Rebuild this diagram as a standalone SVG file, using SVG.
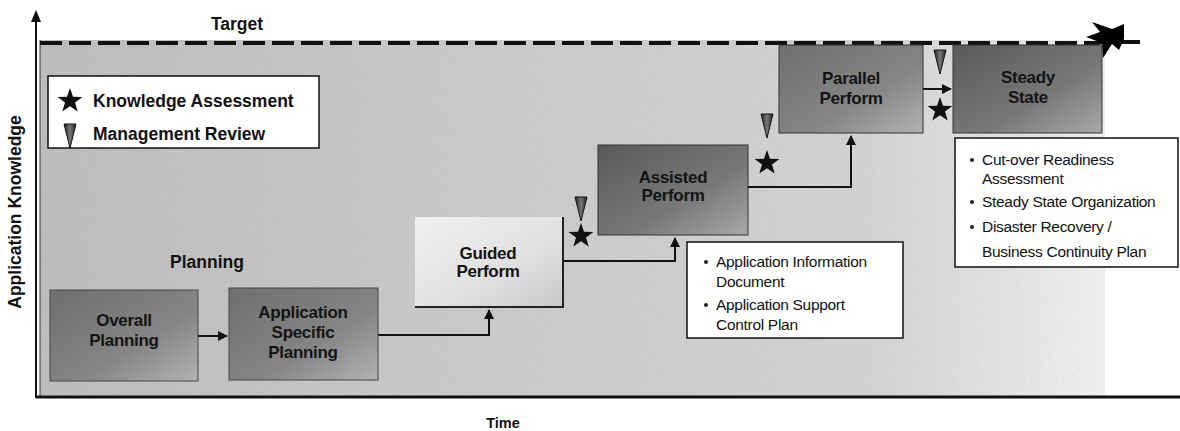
<svg xmlns="http://www.w3.org/2000/svg" width="1180" height="431" viewBox="0 0 1180 431">
  <defs>
    <linearGradient id="bg" x1="0" y1="0" x2="1" y2="0">
      <stop offset="0" stop-color="#c4c4c4"/>
      <stop offset="0.45" stop-color="#d2d2d2"/>
      <stop offset="0.78" stop-color="#dadada"/>
      <stop offset="0.92" stop-color="#ececec"/>
      <stop offset="1" stop-color="#f8f8f8"/>
    </linearGradient>
    <linearGradient id="dark" x1="0" y1="0" x2="1" y2="1">
      <stop offset="0" stop-color="#6f6f6f"/>
      <stop offset="0.6" stop-color="#858585"/>
      <stop offset="1" stop-color="#b2b2b2"/>
    </linearGradient>
    <linearGradient id="darker" x1="0" y1="0" x2="1" y2="1">
      <stop offset="0" stop-color="#5a5a5a"/>
      <stop offset="0.6" stop-color="#787878"/>
      <stop offset="1" stop-color="#a8a8a8"/>
    </linearGradient>
    <linearGradient id="light" x1="0" y1="0" x2="1" y2="1">
      <stop offset="0" stop-color="#f0f0f0"/>
      <stop offset="0.6" stop-color="#e0e0e0"/>
      <stop offset="1" stop-color="#c8c8c8"/>
    </linearGradient>
    <linearGradient id="tri" x1="0" y1="0" x2="1" y2="0">
      <stop offset="0" stop-color="#222"/>
      <stop offset="0.5" stop-color="#777"/>
      <stop offset="1" stop-color="#222"/>
    </linearGradient>
    <filter id="grain" x="0" y="0" width="100%" height="100%">
      <feTurbulence type="fractalNoise" baseFrequency="0.8" numOctaves="2" seed="3" result="n"/>
      <feColorMatrix in="n" type="matrix" values="0 0 0 0 0  0 0 0 0 0  0 0 0 0 0  0 0 0 -1.2 1.1"/>
    </filter>
    <marker id="arr" viewBox="0 0 10 10" refX="9" refY="5" markerWidth="5" markerHeight="5" orient="auto-start-reverse" markerUnits="strokeWidth">
      <path d="M0,0 L10,5 L0,10 z" fill="#111"/>
    </marker>
    <polygon id="star" points="0,-13 3,-4.2 12.4,-4 5,1.6 7.7,10.5 0,5.2 -7.7,10.5 -5,1.6 -12.4,-4 -3,-4.2" fill="#111"/>
    <polygon id="review" points="-6,-12 6,-12 0,12" fill="url(#tri)" stroke="#111" stroke-width="1"/>
  </defs>
  <style>
    .b { font-family: "Liberation Sans", Arial, sans-serif; font-weight: bold; fill: #111; }
    .box { font-family: "Liberation Sans", Arial, sans-serif; font-weight: bold; font-size: 17px; fill: #141414; text-anchor: middle; letter-spacing: -0.3px; }
    .note { font-family: "Liberation Sans", Arial, sans-serif; font-size: 15.5px; fill: #111; letter-spacing: -0.3px; }
    .conn { fill: none; stroke: #111; stroke-width: 2; }
    .frame { fill: #fff; stroke: #111; stroke-width: 1.5; }
  </style>

  <rect width="1180" height="431" fill="#ffffff"/>

  <!-- plot background -->
  <g id="background">
    <rect x="40" y="40" width="1065" height="356" fill="url(#bg)"/>
    <rect x="40" y="40" width="1065" height="356" fill="#000" filter="url(#grain)" opacity="0.08"/>
    <line x1="40" y1="40" x2="40" y2="396" stroke="#333" stroke-width="1"/>
  </g>

  <!-- axes -->
  <g id="axes">
    <line x1="36" y1="20" x2="36" y2="398" stroke="#111" stroke-width="2"/>
    <polygon points="36,10 31,22 41,22" fill="#111"/>
    <line x1="36" y1="397" x2="1180" y2="397" stroke="#111" stroke-width="3"/>
    <text class="b" font-size="17.5" x="21" y="212" text-anchor="middle" transform="rotate(-90 21 212)">Application Knowledge</text>
    <text class="b" font-size="14.5" x="503" y="428" text-anchor="middle">Time</text>
  </g>

  <!-- target line -->
  <g id="target">
    <line x1="40" y1="43" x2="1100" y2="43" stroke="#111" stroke-width="4" stroke-dasharray="22 7"/>
    <line x1="1100" y1="42" x2="1140" y2="42" stroke="#111" stroke-width="4"/>
    <polygon points="1092,22 1112,29 1124,24 1124,39 1119,50 1112,44 1103,58 1102,43 1086,37 1100,32" fill="#000"/>
    <text class="b" font-size="17.5" x="237" y="30" text-anchor="middle">Target</text>
  </g>

  <!-- legend -->
  <g id="legend">
    <rect class="frame" x="48" y="76" width="271" height="72"/>
    <use href="#star" x="70" y="101"/>
    <text class="b" font-size="17.5" x="93" y="107">Knowledge Assessment</text>
    <use href="#review" x="70" y="136"/>
    <text class="b" font-size="17.5" x="93" y="140">Management Review</text>
  </g>

  <text class="b" font-size="17.5" x="207" y="268" text-anchor="middle">Planning</text>

  <!-- connectors -->
  <g id="connectors">
    <path class="conn" d="M198,336 H227" marker-end="url(#arr)"/>
    <path class="conn" d="M378,335 H489 V310" marker-end="url(#arr)"/>
    <path class="conn" d="M563,261 H675 V238" marker-end="url(#arr)"/>
    <path class="conn" d="M748,187 H851 V136" marker-end="url(#arr)"/>
    <path class="conn" d="M923,89 H951" marker-end="url(#arr)"/>
  </g>

  <!-- nodes -->
  <g id="overall-planning">
    <rect x="50" y="290" width="148" height="91" fill="url(#dark)" stroke="#444" stroke-width="1"/>
    <text class="box" x="124" y="326">Overall</text>
    <text class="box" x="124" y="346">Planning</text>
  </g>

  <g id="application-specific-planning">
    <rect x="229" y="288" width="149" height="92" fill="url(#dark)" stroke="#444" stroke-width="1"/>
    <text class="box" x="303" y="318">Application</text>
    <text class="box" x="303" y="338">Specific</text>
    <text class="box" x="303" y="358">Planning</text>
  </g>

  <g id="guided-perform">
    <rect x="415" y="217" width="148" height="90" fill="url(#light)"/>
    <path d="M415,307 H563 V217" fill="none" stroke="#222" stroke-width="2"/>
    <text class="box" x="488" y="259">Guided</text>
    <text class="box" x="488" y="277">Perform</text>
  </g>

  <g id="assisted-perform">
    <rect x="598" y="145" width="150" height="90" fill="url(#darker)" stroke="#333" stroke-width="1"/>
    <text class="box" x="673" y="183">Assisted</text>
    <text class="box" x="673" y="201">Perform</text>
  </g>

  <g id="parallel-perform">
    <rect x="779" y="45" width="144" height="88" fill="url(#dark)" stroke="#333" stroke-width="1"/>
    <text class="box" x="851" y="84">Parallel</text>
    <text class="box" x="851" y="104">Perform</text>
  </g>

  <g id="steady-state">
    <rect x="953" y="45" width="149" height="88" fill="url(#darker)" stroke="#333" stroke-width="1"/>
    <text class="box" x="1028" y="83">Steady</text>
    <text class="box" x="1028" y="103">State</text>
  </g>

  <!-- milestones -->
  <g id="milestones">
    <use href="#review" x="581" y="209"/>
    <use href="#star" x="581" y="236"/>
    <use href="#review" x="767" y="126"/>
    <use href="#star" x="767" y="163"/>
    <use href="#review" x="940" y="62"/>
    <use href="#star" x="940" y="110"/>
  </g>

  <!-- deliverable notes -->
  <g id="notes-assisted">
    <rect class="frame" x="687" y="242" width="216" height="96"/>
    <circle cx="706" cy="262" r="2" fill="#222"/>
    <text class="note" x="716" y="267">Application Information</text>
    <text class="note" x="716" y="287">Document</text>
    <circle cx="706" cy="305" r="2" fill="#222"/>
    <text class="note" x="716" y="310">Application Support</text>
    <text class="note" x="716" y="330">Control Plan</text>
  </g>

  <g id="notes-steady">
    <rect class="frame" x="955" y="138" width="223" height="129"/>
    <circle cx="972" cy="160" r="2" fill="#222"/>
    <text class="note" x="982" y="165">Cut-over Readiness</text>
    <text class="note" x="982" y="184">Assessment</text>
    <circle cx="972" cy="202" r="2" fill="#222"/>
    <text class="note" x="982" y="207">Steady State Organization</text>
    <circle cx="972" cy="227" r="2" fill="#222"/>
    <text class="note" x="982" y="232">Disaster Recovery /</text>
    <text class="note" x="982" y="257">Business Continuity Plan</text>
  </g>
</svg>
